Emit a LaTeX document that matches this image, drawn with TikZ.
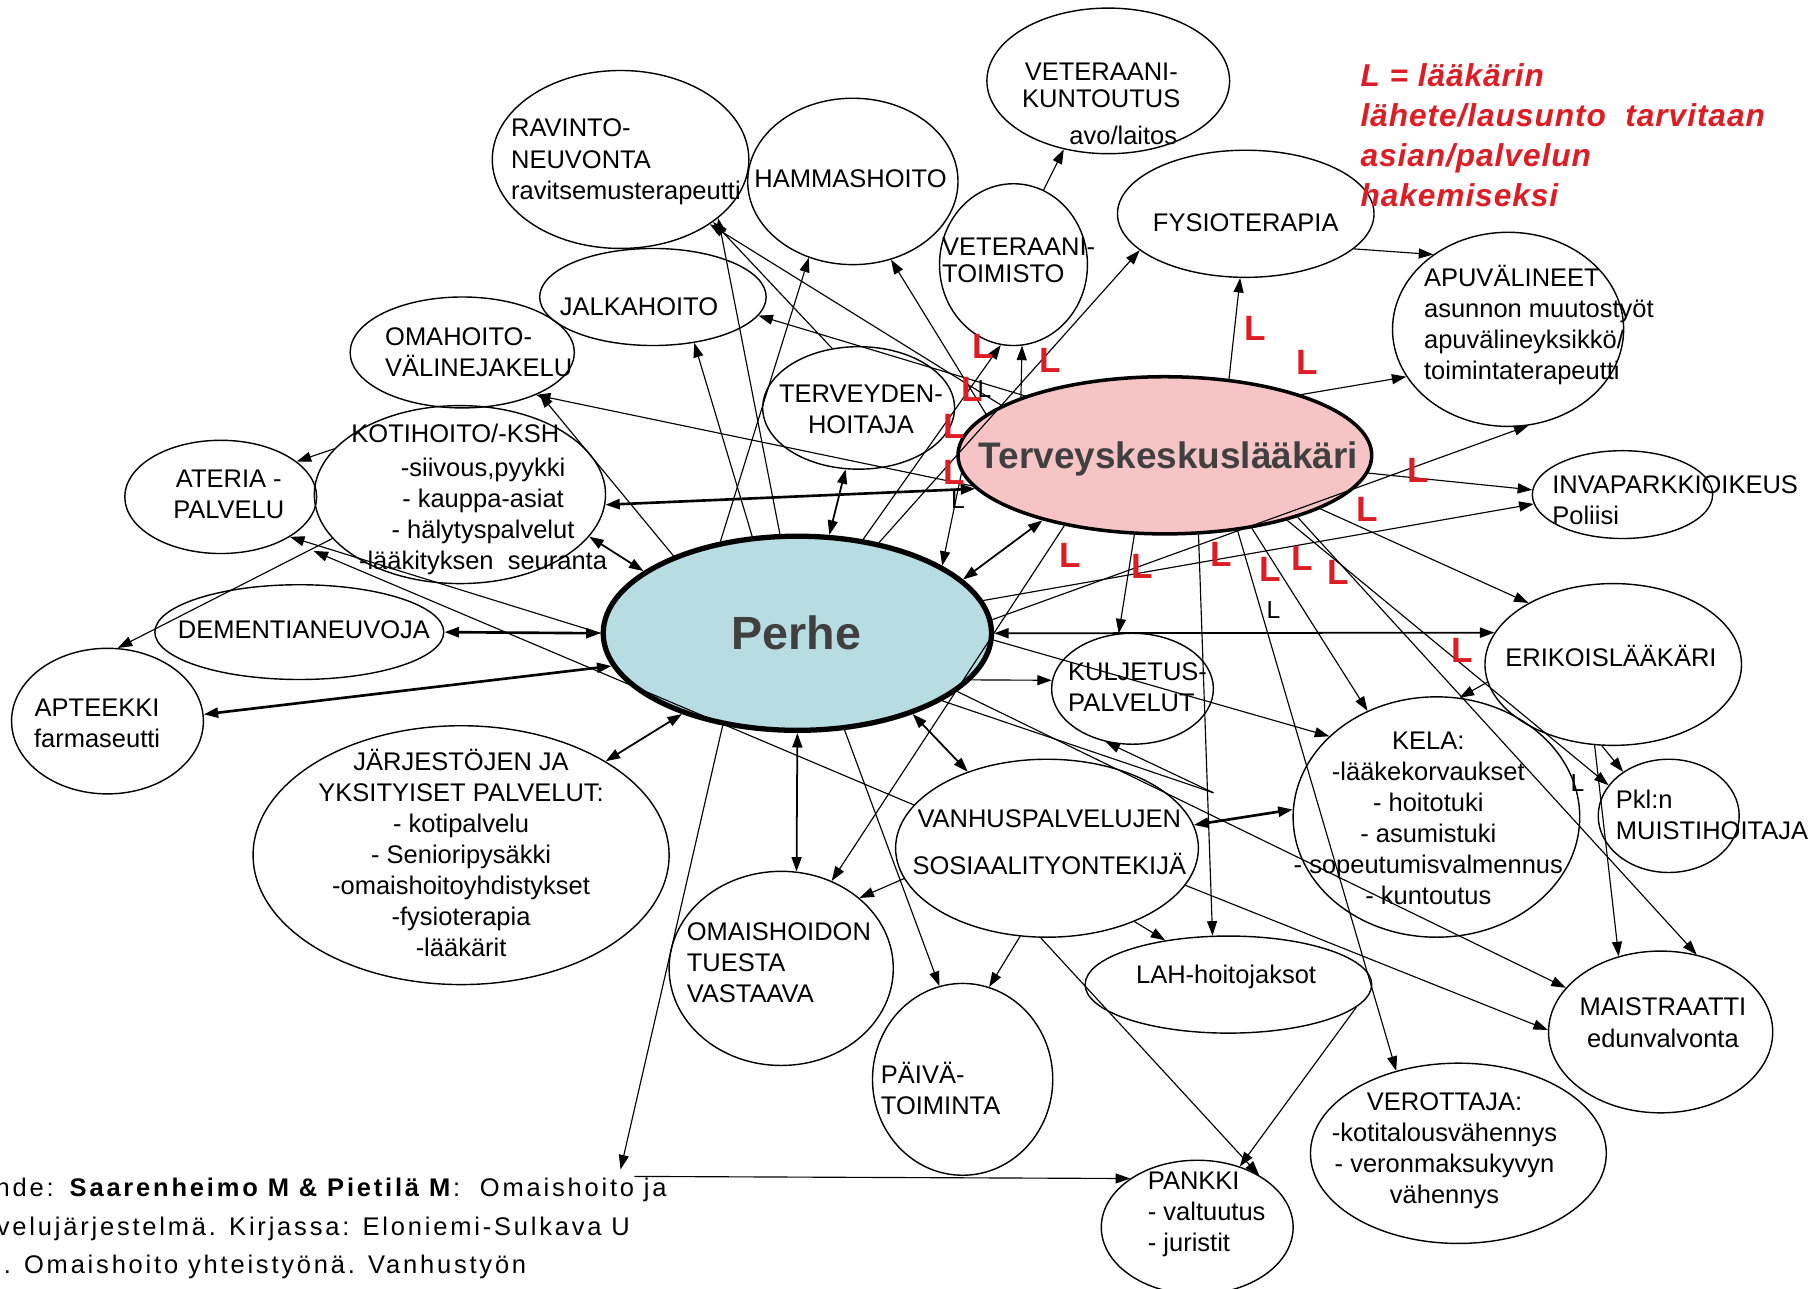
\documentclass[tikz,border=0pt]{standalone}
\usepackage{fontspec}
\setmainfont{Liberation Sans}
\usetikzlibrary{arrows.meta,shapes.geometric}
\definecolor{perheblue}{RGB}{183,221,226}
\definecolor{tkpink}{RGB}{246,196,196}
\definecolor{darktext}{RGB}{64,64,64}
\definecolor{lred}{RGB}{222,28,36}
\newcommand{\bubble}[5]{\node[bub,minimum width=#4*0.462mm,minimum height=#5*0.462mm] (#1) at (#2,#3) {};}
\tikzset{
  bub/.style={ellipse,draw,line width=0.8pt,inner sep=0pt},
  txt/.style={inner sep=0pt,align=center,font=\fontsize{14.5}{17.7}\selectfont},
  tight/.style={font=\fontsize{14.5}{15.2}\selectfont},
  arr/.style={line width=0.65pt,-{Triangle[length=2.9mm,width=2mm]}},
  darr/.style={line width=1pt,{Triangle[length=2.9mm,width=2mm]}-{Triangle[length=2.9mm,width=2mm]}},
  rl/.style={text=lred,inner sep=0pt,font=\fontsize{20}{20}\selectfont\bfseries},
  bl/.style={inner sep=0pt,font=\fontsize{14}{14}\selectfont},
  src/.style={inner sep=0pt,anchor=west,font=\fontsize{14.5}{17.7}\selectfont\addfontfeature{LetterSpace=11}}
}
\begin{document}
\begin{tikzpicture}[x=0.231mm,y=-0.231mm]
\useasboundingbox[fill=white] (0,0) rectangle (1568,1115);

\bubble{vetk}{959}{70}{105}{63}
\bubble{ravinto}{537}{138}{111}{77}
\bubble{hammas}{738}{157}{91}{72}
\bubble{vett}{877}{229}{64}{70}
\bubble{fysio}{1078}{185}{111}{55}
\bubble{apu}{1305}{285}{100}{84}
\bubble{jalka}{565}{257}{98}{42}
\bubble{omahoito}{400}{305}{97}{48}
\bubble{thoit}{743}{353}{83}{53}
\node[bub,fill=tkpink,line width=2pt,minimum width=179*0.462mm,minimum height=68*0.462mm] (tk) at (1008,394) {};
\bubble{inva}{1404}{428}{78}{38}
\bubble{ateria}{191}{430}{83}{49}
\bubble{koti}{398}{428}{126}{77}
\node[bub,fill=perheblue,line width=3pt,minimum width=168*0.462mm,minimum height=84*0.462mm] (perhe) at (690,548) {};
\bubble{dement}{259}{547}{125}{41}
\bubble{apteekki}{93}{624}{83}{63}
\bubble{jarj}{399}{740}{180}{112}
\bubble{kulj}{980}{596}{70}{48}
\bubble{erikois}{1396}{575}{111}{70}
\bubble{kela}{1243}{707}{124}{104}
\bubble{muisti}{1444}{706}{61}{49}
\bubble{vanhus}{906}{734}{131}{77}
\bubble{omais}{676}{838}{97}{84}
\bubble{paiva}{833}{934}{78}{83}
\bubble{lah}{1063}{852}{124}{42}
\bubble{maist}{1437}{893}{97}{70}
\bubble{vero}{1262}{998}{128}{78}
\bubble{pankki}{1036}{1062}{83}{58}

\coordinate (kuljA) at (1050,686);
\coordinate (pkA) at (537,1012);
\coordinate (pkB) at (549,1018);

\draw[arr] (vett.68) -- (vetk.237);
\draw[arr] (fysio.-18) -- (apu.135);
\draw[arr] (tk.50) -- (fysio.265);
\draw[arr] (tk.24) -- (apu.205);
\draw[arr] (perhe.4) -- (apu.282);
\draw[arr] (perhe.10) -- (inva.186);
\draw[arr] (tk.-5) -- (inva.177);
\draw[arr] (tk.-19) -- (erikois.144);
\draw[darr] (perhe.0) -- (erikois.165);
\draw[arr] (tk.249) -- (kulj.104);
\draw[arr] (perhe.-15) -- (kulj.174);
\draw[arr] (perhe.-2) -- (kela.143);
\draw[arr] (tk.-40) -- (kela.123);
\draw[arr] (tk.-46) -- (vero.127);
\draw[arr] (tk.-25) -- (maist.65);
\draw[arr] (tk.-28) -- (muisti.153);
\draw[arr] (erikois.257) -- (maist.119);
\draw[arr] (erikois.262) -- (muisti.136);
\draw[arr] (erikois.188) -- (kela.79);
\draw[arr] (tk.293) -- (lah.108);
\draw[darr] (perhe.-35) -- (vanhus.136);
\draw[darr] (perhe.270) -- (omais.81);
\draw[arr] (perhe.296) -- (paiva.104);
\draw[arr] (vanhus.192) -- (omais.42);
\draw[arr] (vanhus.253) -- (paiva.74);
\draw[arr] (vanhus.320) -- (lah.145);
\draw[arr] (vanhus.266) -- (pankki.40);
\draw[arr] (lah.-10) -- (pankki.55);
\draw[darr,line width=1.5pt] (vanhus.9) -- (kela.177);
\draw[arr] (vanhus.-15) -- (maist.179);
\draw[arr] (perhe.-20) -- (maist.155);
\draw[line width=0.65pt] (perhe.-25) -- (kuljA);
\draw[arr] (kuljA) -- (kulj.243);
\draw[arr] (perhe.180) -- (ateria.330);
\draw[arr,shorten >=6mm] (vanhus.162) -- (ateria.327);
\draw[arr] (koti.160) -- (ateria.25);
\draw[arr] (koti.199) -- (apteekki.82);
\draw[darr,line width=1.5pt] (perhe.190) -- (apteekki.4);
\draw[darr,line width=1.5pt] (dement.0) -- (perhe.180);
\draw[darr] (perhe.215) -- (jarj.33);
\draw[darr] (koti.342) -- (perhe.158);
\draw[darr,line width=1.5pt] (tk.190) -- (koti.356);
\draw[arr] (tk.189) -- (omahoito.330);
\draw[arr] (perhe.148) -- (omahoito.332);
\draw[arr] (perhe.130) -- (hammas.240);
\draw[arr] (perhe.115) -- (jalka.312);
\draw[arr] (perhe.100) -- (ravinto.329);
\draw[arr] (thoit.114) -- (ravinto.326);
\draw[arr] (tk.163) -- (ravinto.324);
\draw[arr] (tk.157) -- (jalka.350);
\draw[arr] (tk.167) -- (hammas.296);
\draw[arr] (tk.158) -- (vett.276);
\draw[arr] (perhe.55) -- (vett.261);
\draw[arr] (perhe.48) -- (fysio.199);
\draw[arr] (tk.185) -- (perhe.25);
\draw[darr] (tk.208) -- (perhe.18);
\draw[darr] (perhe.72) -- (thoit.258);
\draw[arr] (tk.215) -- (omais.60);
\draw[arr] (perhe.231) -- (pkA);
\draw[arr] (pkB) -- (pankki.144);

\node[txt,tight] (vetkT) at (953,74) {VETERAANI-\\KUNTOUTUS};
\node[txt] (vetkL) at (972,117) {avo/laitos};
\node[txt,anchor=west,align=left] (ravintoT) at (442,140) {RAVINTO-\\NEUVONTA\\ravitsemusterapeutti};
\node[txt] (hammasT) at (736,155) {HAMMASHOITO};
\node[txt,tight,anchor=west,align=left] (vettT) at (815,225) {VETERAANI-\\TOIMISTO};
\node[txt] (fysioT) at (1078,193) {FYSIOTERAPIA};
\node[txt,anchor=west,align=left] (apuT) at (1232,281) {APUVÄLINEET\\asunnon muutostyöt\\apuvälineyksikkö/\\toimintaterapeutti};
\node[txt] (jalkaT) at (553,265) {JALKAHOITO};
\node[txt,anchor=west,align=left] (omahoitoT) at (333,305) {OMAHOITO-\\VÄLINEJAKELU};
\node[txt] (thoitT) at (745,354) {TERVEYDEN-\\HOITAJA};
\node[text=darktext,inner sep=0pt,font=\fontsize{21}{21}\selectfont\bfseries] (tkT) at (1011,397) {Terveyskeskuslääkäri};
\node[txt,anchor=west,align=left] (invaT) at (1343,433) {INVAPARKKIOIKEUS\\Poliisi};
\node[txt] (ateriaT) at (198,428) {ATERIA -\\PALVELU};
\node[txt] (kotiT) at (394,375) {KOTIHOITO/-KSH};
\node[txt] (kotiL) at (418,447) {-siivous,pyykki\\- kauppa-asiat\\- hälytyspalvelut\\-lääkityksen~~seuranta};
\node[text=darktext,inner sep=0pt,font=\fontsize{26.5}{26.5}\selectfont\bfseries] (perheT) at (689,548) {Perhe};
\node[txt] (dementT) at (263,545) {DEMENTIANEUVOJA};
\node[txt] (apteekkiT) at (84,626) {APTEEKKI\\farmaseutti};
\node[txt] (jarjT) at (399,738) {JÄRJESTÖJEN JA\\YKSITYISET PALVELUT:\\- kotipalvelu\\- Senioripysäkki\\-omaishoitoyhdistykset\\-fysioterapia\\-lääkärit};
\node[txt,anchor=west,align=left] (kuljT) at (924,595) {KULJETUS-\\PALVELUT};
\node[txt] (erikoisT) at (1394,568) {ERIKOISLÄÄKÄRI};
\node[txt] (kelaT) at (1236,708) {KELA:\\-lääkekorvaukset\\- hoitotuki\\- asumistuki\\- sopeutumisvalmennus\\- kuntoutus};
\node[txt,anchor=west,align=left] (muistiT) at (1398,705) {Pkl:n\\MUISTIHOITAJA};
\node[txt] (vanhusT) at (908,729) {VANHUSPALVELUJEN\\[9pt]SOSIAALITYONTEKIJÄ};
\node[txt,anchor=west,align=left] (omaisT) at (594,833) {OMAISHOIDON\\TUESTA\\VASTAAVA};
\node[txt,anchor=west,align=left] (paivaT) at (762,942) {PÄIVÄ-\\TOIMINTA};
\node[txt] (lahT) at (1061,845) {LAH-hoitojaksot};
\node[txt] (maistT) at (1439,885) {MAISTRAATTI\\edunvalvonta};
\node[txt] (veroT) at (1250,996) {VEROTTAJA:\\-kotitalousvähennys\\- veronmaksukyvyn\\vähennys};
\node[txt,anchor=west,align=left] (pankkiT) at (993,1051) {PANKKI\\- valtuutus\\- juristit};

\node[anchor=west,align=left,text=lred,inner sep=0pt,font=\fontsize{18}{22.8}\selectfont\bfseries\itshape\addfontfeature{LetterSpace=3}] (legend) at (1177,117) {L = lääkärin\\lähete/lausunto~~tarvitaan\\asian/palvelun\\hakemiseksi};

\node[rl] (redL1) at (851,300) {L};
\node[rl] (redL2) at (909,312) {L};
\node[rl] (redL3) at (841,337) {L};
\node[rl] (redL4) at (826,369) {L};
\node[rl] (redL5) at (826,409) {L};
\node[rl] (redL6) at (1086,284) {L};
\node[rl] (redL7) at (1131,314) {L};
\node[rl] (redL8) at (1227,407) {L};
\node[rl] (redL9) at (1183,441) {L};
\node[rl] (redL10) at (926,481) {L};
\node[rl] (redL11) at (988,490) {L};
\node[rl] (redL12) at (1057,480) {L};
\node[rl] (redL13) at (1099,493) {L};
\node[rl] (redL14) at (1127,483) {L};
\node[rl] (redL15) at (1158,495) {L};
\node[rl] (redL16) at (1265,563) {L};
\node[bl] (blkL1) at (852,337) {L};
\node[bl] (blkL2) at (829,433) {L};
\node[bl] (blkL3) at (1102,528) {L};
\node[bl] (blkL4) at (1365,678) {L};

\node[src] (srcA) at (-4,1030) {nde: \textbf{Saarenheimo M \& Pietilä M}:~ Omaishoito ja};
\node[src] (srcB) at (-3,1063) {velujärjestelmä. Kirjassa: Eloniemi-Sulkava U};
\node[src] (srcC) at (3,1096) {. Omaishoito yhteistyönä. Vanhustyön};
\end{tikzpicture}
\end{document}
